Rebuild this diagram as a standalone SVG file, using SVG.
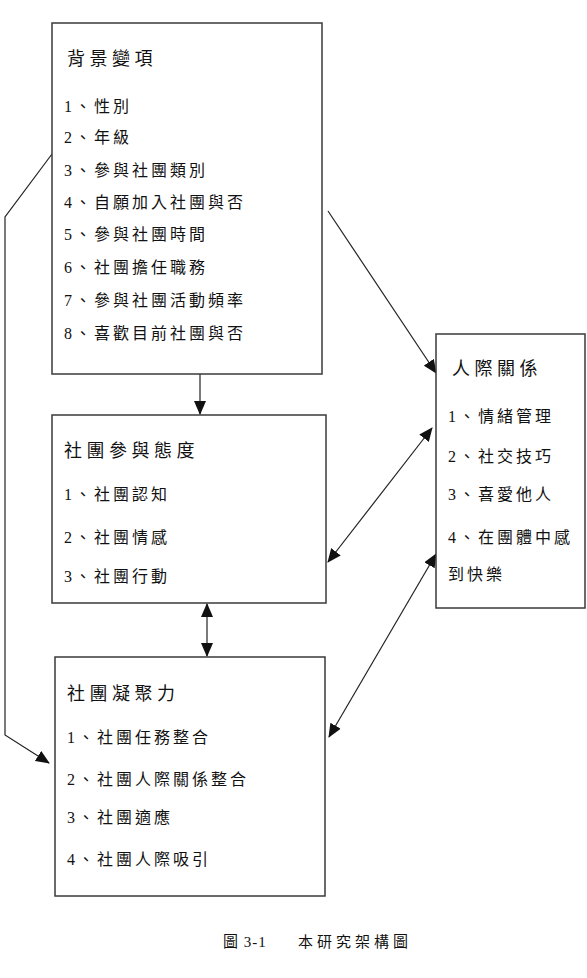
<svg xmlns="http://www.w3.org/2000/svg" width="587" height="978" viewBox="0 0 587 978">
<style>
.box{fill:#fff;stroke:#3a3a3a;stroke-width:1.5}
.t{font-family:"Liberation Serif","Noto Sans CJK TC",serif;fill:#111}
.h{font-size:18px;letter-spacing:4.5px}
.i{font-size:16px;letter-spacing:3px}
.c{font-family:"Liberation Serif","Noto Sans CJK TC",serif;font-size:15px;fill:#111}
.ln{fill:none;stroke:#222;stroke-width:1.2}
</style>
<defs>
<marker id="ah" markerUnits="userSpaceOnUse" markerWidth="14" markerHeight="12" refX="13" refY="6" orient="auto-start-reverse" viewBox="0 0 14 12">
<path d="M0,0 L14,6 L0,12 Z" fill="#111"/>
</marker>
</defs>
<rect width="587" height="978" fill="#fff"/>
<g id="connectors">
<polyline class="ln" points="52,154 5,217 5,735 49,763" marker-end="url(#ah)"/>
<line class="ln" x1="200" y1="374" x2="200" y2="414" marker-end="url(#ah)"/>
<line class="ln" x1="207" y1="604" x2="207" y2="656" marker-start="url(#ah)" marker-end="url(#ah)"/>
<line class="ln" x1="328" y1="211" x2="436" y2="373" marker-end="url(#ah)"/>
<line class="ln" x1="328" y1="562" x2="432" y2="428" marker-start="url(#ah)" marker-end="url(#ah)"/>
<line class="ln" x1="329" y1="737" x2="436" y2="554" marker-start="url(#ah)" marker-end="url(#ah)"/>
</g>
<g id="background">
<rect class="box" x="52" y="23" width="270" height="351"/>
<text class="t h" x="67" y="65">背景變項</text>
<text class="t i" x="64" y="112">1、性別</text>
<text class="t i" x="64" y="143">2、年級</text>
<text class="t i" x="64" y="176">3、參與社團類別</text>
<text class="t i" x="64" y="208">4、自願加入社團與否</text>
<text class="t i" x="64" y="240">5、參與社團時間</text>
<text class="t i" x="64" y="273">6、社團擔任職務</text>
<text class="t i" x="64" y="306">7、參與社團活動頻率</text>
<text class="t i" x="64" y="339">8、喜歡目前社團與否</text>
</g>
<g id="attitude">
<rect class="box" x="52" y="415" width="274" height="188"/>
<text class="t h" x="64" y="457">社團參與態度</text>
<text class="t i" x="64" y="500">1、社團認知</text>
<text class="t i" x="64" y="543">2、社團情感</text>
<text class="t i" x="64" y="582">3、社團行動</text>
</g>
<g id="cohesion">
<rect class="box" x="55" y="657" width="270" height="239"/>
<text class="t h" x="67" y="700">社團凝聚力</text>
<text class="t i" x="67" y="743">1、社團任務整合</text>
<text class="t i" x="67" y="785">2、社團人際關係整合</text>
<text class="t i" x="67" y="823">3、社團適應</text>
<text class="t i" x="67" y="865">4、社團人際吸引</text>
</g>
<g id="relations">
<rect class="box" x="436" y="334" width="149" height="274"/>
<text class="t h" x="452" y="375">人際關係</text>
<text class="t i" x="448" y="422">1、情緒管理</text>
<text class="t i" x="448" y="462">2、社交技巧</text>
<text class="t i" x="448" y="500">3、喜愛他人</text>
<text class="t i" x="448" y="543">4、在團體中感</text>
<text class="t i" x="448" y="580">到快樂</text>
</g>
<g id="caption">
<text class="c" x="223" y="947" letter-spacing="1">圖 3-1</text>
<text class="c" x="298" y="947" letter-spacing="4">本研究架構圖</text>
</g>
</svg>
